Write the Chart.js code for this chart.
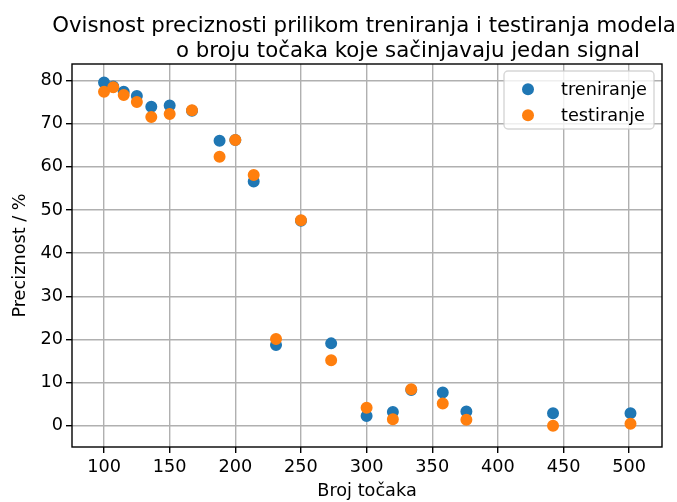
<!DOCTYPE html>
<html>
<head>
<meta charset="utf-8">
<script src="https://cdn.jsdelivr.net/npm/chart.js@4.4.1/dist/chart.umd.min.js"></script>
<style>
  html, body { margin: 0; padding: 0; background: #fff; }
</style>
</head>
<body>
<canvas id="scatter" width="677" height="502"></canvas>
<script>
// broj točaka po signalu i preciznost (%) za oba skupa
const brojTocaka = [100, 107, 115, 125, 136, 150, 167, 188, 200, 214, 231, 250, 273, 300, 320, 334, 358, 376, 442, 501];
const treniranje = [79.5, 78.6, 77.4, 76.4, 73.9, 74.2, 73.0, 66.0, 66.2, 56.6, 18.7, 47.5, 19.1, 2.3, 3.2, 8.3, 7.7, 3.3, 2.9, 2.9];
const testiranje = [77.4, 78.4, 76.6, 75.0, 71.5, 72.2, 73.1, 62.3, 66.2, 58.1, 20.1, 47.6, 15.2, 4.2, 1.5, 8.5, 5.2, 1.4, 0.0, 0.5];

const xTicks = [100, 150, 200, 250, 300, 350, 400, 450, 500];
const yTicks = [0, 10, 20, 30, 40, 50, 60, 70, 80];

const naslov = [
  'Ovisnost preciznosti prilikom treniranja i testiranja modela',
  '             o broju točaka koje sačinjavaju jedan signal'
];

const FONT = 'DejaVu Sans';
const TXT = 17.7;
const BLUE = '#1f77b4';
const ORANGE = '#ff7f0e';

const toPoints = ys => brojTocaka.map((x, i) => ({ x: x, y: ys[i] }));

// naslov u dva retka, centriran iznad područja grafa
const titleLines = {
  id: 'titleLines',
  afterDraw(chart) {
    const { ctx, chartArea: a } = chart;
    ctx.save();
    ctx.font = '21.3px "' + FONT + '"';
    ctx.fillStyle = '#000';
    ctx.textAlign = 'center';
    ctx.textBaseline = 'alphabetic';
    const cx = (a.left + a.right) / 2 - 3;
    naslov.forEach((line, i) => ctx.fillText(line, cx, 31.5 + i * 25.6));
    ctx.restore();
  }
};

// okvir oko grafa i legenda u gornjem desnom kutu
const frameAndLegend = {
  id: 'frameAndLegend',
  afterDatasetsDraw(chart) {
    const { ctx, chartArea: a } = chart;
    ctx.save();
    ctx.strokeStyle = '#000';
    ctx.lineWidth = 1.4;
    ctx.strokeRect(a.left, a.top, a.right - a.left, a.bottom - a.top);

    const w = 150, h = 58;
    const x = a.right - 8 - w, y = a.top + 7;
    ctx.beginPath();
    ctx.roundRect(x, y, w, h, 4);
    ctx.fillStyle = 'rgba(255,255,255,0.8)';
    ctx.fill();
    ctx.strokeStyle = 'rgba(204,204,204,0.8)';
    ctx.lineWidth = 1.4;
    ctx.stroke();

    ctx.font = TXT + 'px "' + FONT + '"';
    ctx.textBaseline = 'middle';
    chart.data.datasets.forEach((ds, i) => {
      const cy = y + 18.3 + i * 26;
      ctx.beginPath();
      ctx.arc(x + 24, cy, 6, 0, Math.PI * 2);
      ctx.fillStyle = ds.backgroundColor;
      ctx.fill();
      ctx.fillStyle = '#000';
      ctx.fillText(ds.label, x + 57, cy + 1);
    });
    ctx.restore();
  }
};

new Chart(document.getElementById('scatter'), {
  type: 'scatter',
  data: {
    datasets: [
      {
        label: 'treniranje',
        data: toPoints(treniranje),
        backgroundColor: BLUE,
        borderColor: BLUE,
        pointRadius: 5.2,
        borderWidth: 1.6,
        order: 1
      },
      {
        label: 'testiranje',
        data: toPoints(testiranje),
        backgroundColor: ORANGE,
        borderColor: ORANGE,
        pointRadius: 5.2,
        borderWidth: 1.6,
        order: 0
      }
    ]
  },
  options: {
    responsive: false,
    animation: false,
    events: [],
    layout: { padding: { top: 64, left: 0, right: 15, bottom: 0 } },
    plugins: {
      legend: { display: false },
      tooltip: { enabled: false },
      title: { display: false }
    },
    scales: {
      x: {
        type: 'linear',
        min: 75.6,
        max: 525,
        afterBuildTicks: s => { s.ticks = xTicks.map(v => ({ value: v })); },
        afterFit: s => { s.height = 55; },
        ticks: {
          color: '#000',
          padding: 4,
          maxRotation: 0,
          font: { family: FONT, size: TXT }
        },
        grid: {
          color: '#b0b0b0',
          lineWidth: 1.4,
          tickColor: '#000',
          tickLength: 6,
          tickWidth: 1.4
        },
        border: { display: false },
        title: {
          display: true,
          text: 'Broj točaka',
          color: '#000',
          font: { family: FONT, size: TXT, lineHeight: 1.2 },
          padding: { top: 0, bottom: 0 }
        }
      },
      y: {
        type: 'linear',
        min: -4.9,
        max: 83.8,
        afterBuildTicks: s => { s.ticks = yTicks.map(v => ({ value: v })); },
        afterFit: s => { s.width = 72; },
        ticks: {
          color: '#000',
          padding: 3,
          font: { family: FONT, size: TXT }
        },
        grid: {
          color: '#b0b0b0',
          lineWidth: 1.4,
          tickColor: '#000',
          tickLength: 6,
          tickWidth: 1.4
        },
        border: { display: false },
        title: {
          display: true,
          text: 'Preciznost / %',
          color: '#000',
          font: { family: FONT, size: TXT, lineHeight: 1.2 },
          padding: { top: 10, bottom: 0 }
        }
      }
    }
  },
  plugins: [titleLines, frameAndLegend]
});
</script>
</body>
</html>
